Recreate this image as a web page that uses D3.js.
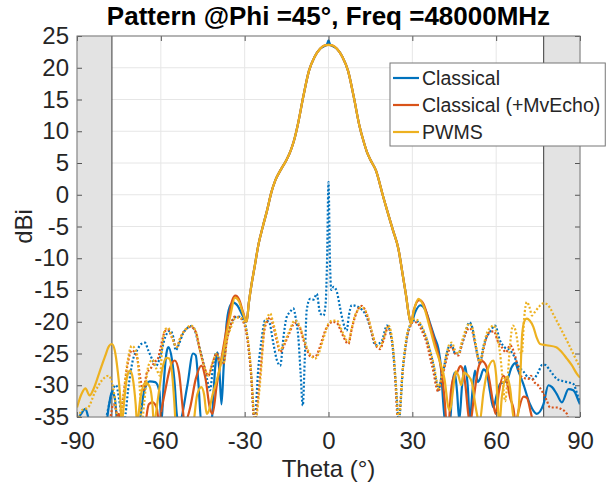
<!DOCTYPE html>
<html>
<head>
<meta charset="utf-8">
<script src="https://cdnjs.cloudflare.com/ajax/libs/d3/7.8.5/d3.min.js"></script>
<style>
body{margin:0;background:#fff}
text{font-family:"Liberation Sans",Arial,sans-serif;fill:#262626}
</style>
</head>
<body>
<svg id="patterngraph"></svg>
<script>
//tick labels
var thetaTicks = [-90,-60,-30,0,30,60,90]
var dbTicks = [-35,-30,-25,-20,-15,-10,-5,0,5,10,15,20,25]
//theta ranges outside the valid scan area
var shadeBands = [[-90,-77.5],[77,90]]
var seriesNames = ["Classical","Classical (+MvEcho)","PWMS"]

//main beam, common to the three co-pol curves [theta, dBi]
var mainBeam = [[-29.3,-20],[-28.5,-17],[-27.5,-14],[-26.5,-11.5],[-25,-7.7],[-23.5,-5],[-22,-2.5],[-20.5,0.3],[-19,2.3],[-17,4],[-15,5.5],[-13.5,7],[-12.5,8.3],[-11,11],[-9,15.5],[-7,19.5],[-5,21.7],[-3,23],[3,23],[5,21.7],[7,19.5],[9,15.5],[11,11],[12.5,8.5],[13.7,6.8],[15,5.5],[17,3.8],[19.5,-0.2],[21,-2.5],[23,-5.5],[25,-8.5],[26.7,-13],[27.8,-16],[28.6,-18.5],[29.5,-20.3]]
var classicalPeak = [[-1.5,23.4],[-0.5,23.7],[0,24.3],[0.5,23.7],[1.5,23.4]]
var pwmsPeak = [[-1.5,23.5],[0,23.6],[1.5,23.5]]

//co-pol sidelobes
var classicalCoLeft = [[-90,-35.5],[-88.5,-34.5],[-87,-33.7],[-86,-35],[-85,-37],[-80,-37],[-78.5,-33],[-77.5,-31],[-76.5,-32],[-75.5,-36],[-72,-38],[-68,-36.5],[-66,-31],[-64,-29.4],[-62,-29.5],[-60.5,-31],[-59.8,-36],[-59,-30],[-58,-25],[-57.3,-24],[-56,-26],[-55,-30],[-54.3,-34.5],[-53.5,-36],[-50.5,-30],[-48.5,-25],[-47.5,-25.3],[-46.5,-30],[-45.5,-36],[-42,-36],[-40.5,-27],[-39.8,-24.8],[-39,-28],[-38.3,-33],[-37.5,-27],[-36.4,-20],[-35,-17.3],[-34,-17],[-32.5,-17.5],[-31,-18.8]]
var classicalCoRight = [[31,-18.5],[32.8,-17.4],[34.5,-18],[36.3,-20.2],[38,-22.5],[39.3,-24.2],[40.2,-27],[41.1,-33],[41.8,-36],[43.5,-36],[44.3,-30],[45.2,-28],[46,-31],[46.8,-35.5],[47.8,-30],[48.9,-27],[49.8,-30],[50.6,-35.5],[51.5,-31],[52.4,-27.7],[53.5,-29.5],[54.2,-29],[55.5,-27.5],[56.6,-28],[57.8,-31],[59,-33.5],[60.2,-31.5],[61.4,-29.8],[63.8,-29.3],[65.5,-27.2],[66.8,-26.5],[67.9,-27.7],[69.7,-29.8],[72.1,-33],[74.5,-34.5],[76.9,-33],[78.7,-30],[80,-30.3],[81.7,-31.4],[83.5,-32.7],[85.9,-30.6],[87.6,-30.8],[89.7,-32.7],[90,-33]]
var mvEchoCoLeft = [[-90,-40],[-80,-40],[-76.5,-37],[-75.6,-35],[-75,-34.5],[-74.3,-36],[-72,-40],[-67,-40],[-65.5,-36],[-64.3,-33],[-63,-32.7],[-61.5,-33.5],[-60.6,-36],[-59.8,-34],[-58.5,-31],[-56.5,-27],[-55,-26.1],[-53.5,-28],[-52.3,-33],[-51.5,-36],[-49.5,-33.5],[-47.5,-29],[-45.5,-26.9],[-44,-29],[-42.5,-33.5],[-41.5,-34.5],[-40,-30],[-38,-25],[-36,-20],[-34.5,-16.7],[-33.3,-15.9],[-32,-16.5],[-30.5,-18.6]]
var mvEchoCoRight = [[30.5,-18.2],[32.5,-16.6],[34,-17.2],[36,-20],[38,-23],[39.5,-25.5],[40.5,-28],[41.5,-32],[42.3,-36],[43,-36],[43.8,-31],[45,-28.5],[46,-28],[47.2,-27],[48,-27.5],[49,-30],[50,-34.5],[50.7,-36],[52,-32],[53.5,-27.5],[54.9,-26.2],[56.5,-27],[57.5,-29],[59,-33],[59.8,-34.5],[61,-31],[62.5,-28.5],[63.8,-29.5],[65,-32],[66.2,-33.7],[67,-36],[68,-34],[69.8,-31.8],[71,-32],[72.5,-34.5],[73.3,-36],[75,-40],[90,-40]]
var pwmsCoLeft = [[-90,-33.5],[-88.5,-31.5],[-87,-30.5],[-85.5,-31.6],[-84,-30.5],[-82,-28],[-80,-25.5],[-78.5,-23.8],[-77.5,-23.5],[-76.5,-24.5],[-75.5,-27.5],[-74.6,-31.5],[-74,-36],[-73,-32],[-72,-28.5],[-71,-27.7],[-70,-29],[-69,-33],[-68.5,-36],[-67.3,-32],[-65.5,-29.6],[-64,-30.2],[-63,-33],[-62.5,-36],[-61,-32],[-59.5,-27.5],[-58,-25.7],[-57,-25.8],[-56,-28],[-55.2,-32.5],[-54.7,-36],[-52,-40],[-49,-40],[-48,-35],[-47,-31.5],[-45.5,-30.3],[-44.5,-31.5],[-43.6,-34.5],[-42.8,-34],[-41.5,-31.5],[-40,-29.3],[-38,-25.5],[-36.4,-21.8],[-35,-18.8],[-33.5,-16.2],[-32,-16.8],[-30.5,-18.8]]
var pwmsCoRight = [[30.5,-18.3],[32.2,-16.4],[34,-17.5],[36,-20.5],[38,-23.8],[40,-26.5],[41.5,-29],[42.9,-33.5],[43.5,-34],[44.5,-31],[45.5,-27.8],[46.5,-28.5],[47.5,-30],[48.5,-28],[50,-28.5],[51.3,-29.5],[52.5,-33],[53.1,-34.5],[54,-36],[55.5,-31],[57,-27.5],[59,-26.1],[60,-28.5],[60.7,-34],[61.2,-36],[62,-32],[63.8,-28.7],[65,-30.5],[66,-34.5],[67,-36],[68,-34],[68.7,-28],[69.3,-22],[70.2,-19.8],[71,-19.5],[72,-19.8],[73.3,-20.8],[74.5,-22.5],[75.7,-23.5],[78,-23.7],[81.5,-24],[83.5,-24.8],[85.3,-25.8],[87,-26.8],[88.9,-28.2],[90,-28.8]]

//cross-pol curves (dotted)
var classicalX = [[-90,-38],[-86,-36],[-80,-35.5],[-78.5,-33],[-77,-30.5],[-76,-30],[-75,-32],[-74,-35],[-73.3,-36],[-71.5,-30],[-70,-26],[-68.5,-24.5],[-67,-23.5],[-65.7,-23.3],[-64.5,-24.5],[-63,-26],[-61.8,-27],[-60.3,-25.6],[-58.5,-22.5],[-56.7,-21.4],[-55.5,-22.5],[-54.7,-24.5],[-53.5,-23.5],[-52,-21.8],[-50.5,-21],[-49.3,-20.7],[-48,-21.2],[-46.5,-23.5],[-45,-26],[-43.5,-29],[-42.4,-30.8],[-41.3,-27],[-40,-24.8],[-38.8,-26.5],[-37.5,-26],[-36.4,-22.6],[-35,-20.5],[-33.5,-19.3],[-32,-19.2],[-30.5,-19.8],[-29.5,-21],[-28.5,-24.5],[-27.5,-29.5],[-26.9,-34],[-26.5,-36],[-25.1,-27.2],[-24,-23],[-22.7,-19.8],[-21.3,-20],[-19.7,-23.5],[-18.5,-26],[-17.3,-26.9],[-16,-22],[-15,-19.3],[-13.8,-18.5],[-12.6,-17.9],[-11.7,-19.5],[-10.8,-22.4],[-10,-28],[-9.2,-33.2],[-8.5,-26],[-7.8,-18.2],[-6.6,-16.4],[-5.3,-16.5],[-4.2,-15.6],[-3,-18.7],[-1.8,-19],[-1,-17],[-0.5,-10],[0,2],[0.5,-10],[1,-15],[1.8,-14.5],[3,-15.3],[4.1,-17.7],[5.2,-20],[6.5,-21.4],[7.3,-19],[8.3,-17.4],[10.7,-17.7],[13.7,-19.3],[15.3,-21.5],[16.7,-23.7],[19.1,-23],[20.9,-20.6],[22.7,-23],[23.6,-27],[24.4,-31.9],[25.2,-36],[25.8,-33],[26.5,-28],[27.4,-24.5],[28.5,-21.5],[29.5,-20.3],[30.4,-19.8],[32,-20],[33.5,-21],[35.1,-22.8],[36.3,-24.5],[37.6,-27],[38.6,-29.5],[39.3,-30.8],[40.3,-29],[41.1,-27.7],[42.3,-25],[43.3,-23.8],[44.1,-23.7],[45.3,-25],[46.5,-25],[47.8,-23.5],[48.9,-21.9],[50.4,-20.1],[51.5,-21],[52.5,-23.5],[53.5,-25.5],[54.2,-26.6],[55.4,-24],[56.5,-22.5],[57.8,-21.6],[59.6,-20.6],[61.4,-23],[63,-24],[65,-24.5],[66.5,-25.5],[68,-27],[69.7,-27.8],[71.5,-28.8],[73.3,-29],[75,-28],[76.5,-26.8],[77.5,-26.8],[79.3,-27.7],[81.7,-29],[83.5,-29.3],[85.3,-29.5],[87.6,-29.8],[89.4,-31.9],[90,-32.5]]
var mvEchoX = [[-90,-40],[-80,-38],[-78,-35],[-77,-33],[-76,-34],[-75.3,-36],[-73.5,-32],[-72,-27],[-70.4,-24.5],[-68.6,-25.5],[-67.3,-29],[-66.3,-31],[-65,-28],[-63.9,-27.5],[-62.1,-26.3],[-61,-25.8],[-60.3,-24.5],[-58.5,-21.5],[-57.5,-21.2],[-56,-22.5],[-54.3,-24],[-53,-22.5],[-51.5,-21.4],[-49.3,-20.8],[-47.5,-21.6],[-46,-24.5],[-44.5,-27],[-43,-28.5],[-41.5,-26.5],[-40,-25],[-38.8,-26.5],[-37.5,-26.5],[-36.4,-23],[-35,-20.5],[-33.5,-19.2],[-32,-19.3],[-30.5,-20],[-29.5,-21.5],[-28.5,-24.5],[-27.5,-29.5],[-26.9,-34],[-26.5,-36],[-25,-31],[-24,-26],[-23,-21.5],[-22,-20],[-20.9,-19.3],[-19.7,-20.8],[-18.5,-23],[-17.3,-24.8],[-16,-23.8],[-14.4,-22.2],[-12,-20.2],[-10.2,-21],[-9,-22.8],[-7.8,-24.3],[-6.3,-25.5],[-4.8,-25.5],[-3.5,-24.5],[-2.4,-23],[-1,-21.2],[0,-20.5],[1.5,-20],[3,-20.2],[4.2,-21.2],[5.3,-22.3],[7.1,-23.5],[8.3,-21.2],[9.5,-19.2],[11.9,-17.5],[14.2,-19.6],[15.5,-21.8],[16.7,-23.5],[18.4,-24.3],[19.8,-22.8],[21.4,-20.8],[22.3,-22],[23.2,-25],[24,-30],[24.5,-34],[24.9,-36],[25.5,-34],[26.4,-28.5],[27.4,-24.5],[28.3,-22],[29.2,-20.8],[30.4,-20],[32,-20.3],[33.5,-21.5],[35.1,-23.3],[36.3,-25.5],[37.6,-28],[38.6,-30.3],[39.3,-31],[40.3,-29.5],[41.1,-28],[42.3,-25.8],[43.3,-24.3],[44.1,-24],[45.3,-25],[46.5,-25.3],[47.8,-23.5],[48.9,-22],[50.4,-21],[51.5,-21.6],[52.5,-23.5],[53.5,-25.8],[54.2,-26.6],[55.4,-24.5],[56.5,-22.5],[57.8,-21.6],[59.2,-21.5],[60.5,-23],[62,-24],[63.5,-24.8],[65,-23.7],[66.5,-25],[68,-27.5],[69.2,-28.7],[71.5,-29],[72.5,-28.5],[73.3,-29.3],[75,-30],[76.5,-31],[78.1,-32.4],[79.3,-33.5],[81.7,-33.5],[83.5,-33.8],[85.3,-34.5],[86,-36],[90,-40]]
var pwmsX = [[-90,-37],[-88.5,-34],[-86,-33.5],[-83.6,-31.1],[-81.2,-29.3],[-78.8,-28.5],[-77.5,-29.5],[-76.5,-32],[-75.8,-34.5],[-75,-36],[-73.5,-32],[-72,-26.5],[-70.4,-23.8],[-68.6,-25],[-67.5,-30.8],[-66.8,-36],[-66,-33],[-64.5,-27],[-63,-26],[-61.5,-27.5],[-60.3,-28.5],[-59.5,-24],[-58.5,-21.2],[-57.3,-21],[-56,-22.5],[-54.3,-24],[-53,-22.5],[-51.5,-21.4],[-49.3,-20.6],[-47.5,-21.5],[-46,-24.5],[-44.5,-27],[-43,-28.5],[-41.5,-26.5],[-40,-25],[-38.8,-26.5],[-37.5,-26.5],[-36.4,-23],[-35,-21],[-33.5,-19.5],[-32,-19.3],[-30.5,-19.8],[-29.5,-21],[-28.5,-24],[-27.5,-29],[-26.8,-34],[-26.3,-36],[-25,-32],[-24,-27],[-23,-21],[-22,-19.5],[-20.9,-18.7],[-19.7,-20.3],[-18.5,-22.5],[-17.3,-24.5],[-16,-23.5],[-14.4,-21.9],[-12,-19.8],[-10.2,-20.8],[-9,-22.5],[-7.8,-24],[-6.3,-25.3],[-4.8,-25.8],[-3.5,-25],[-2.4,-23.5],[-1,-21.5],[0,-20.3],[1.5,-19.8],[3,-19.8],[4.2,-20.8],[5.3,-21.9],[7.1,-23.2],[8.3,-21],[9.5,-19],[11.9,-17.7],[14.2,-19.3],[15.5,-21.5],[16.7,-23.2],[18.4,-24],[19.8,-22.5],[21.4,-20.6],[22.3,-21.5],[23.2,-24.5],[24,-29],[24.6,-33],[25,-36],[25.6,-34],[26.5,-28],[27.4,-24],[28.3,-21.5],[29.2,-20.5],[30.4,-19.6],[32,-19.8],[33.5,-20.8],[35.1,-22.6],[36.3,-24.5],[37.6,-26.6],[38.6,-29],[39.3,-30.5],[40.3,-29],[41.1,-27.5],[42.3,-25],[43.3,-23.5],[44.1,-23.3],[45.3,-24.5],[46.5,-25],[47.8,-23],[48.9,-21.5],[50.4,-20.3],[51.5,-21],[52.5,-23],[53.5,-25.5],[54.2,-26.3],[55.4,-24],[56.5,-22],[57.8,-21],[59.2,-20.6],[60.4,-22.5],[61.4,-25],[62.3,-29],[63.2,-32.5],[64,-29.5],[65,-23.5],[66,-20.6],[67,-21.5],[68.2,-24.5],[69.2,-25],[70,-19.5],[71,-16.9],[72,-17.8],[72.8,-19],[73.8,-18.5],[75.2,-17.7],[76.8,-17.1],[78.1,-17.2],[79.5,-18],[80.4,-18.8],[82.9,-20.9],[85.9,-23.5],[88.2,-25.6],[90,-27.2]]

var byTheta = function(a,b){return a[0]-b[0]}

//size of screen
var screen = {width:614,height:490}
//how much space on each side
var margins = {left:77,right:34,top:36,bottom:73}
var graph = {
    width:screen.width-margins.left-margins.right,
    height:screen.height-margins.top-margins.bottom
}

var svg = d3.select("#patterngraph")
    .attr("width",screen.width)
    .attr("height",screen.height)

svg.append("rect").attr("width",screen.width).attr("height",screen.height).attr("fill","white")

var xScale = d3.scaleLinear().domain([-90,90]).range([0,graph.width])
var yScale = d3.scaleLinear().domain([-35,25]).range([graph.height,0])

var target = svg.append("g")
    .attr("transform","translate("+margins.left+","+margins.top+")")

target.append("clipPath").attr("id","plotclip")
    .append("rect").attr("width",graph.width).attr("height",graph.height)

//grid
target.append("g").selectAll("line").data(thetaTicks).enter().append("line")
    .attr("x1",function(t){return xScale(t)}).attr("x2",function(t){return xScale(t)})
    .attr("y1",0).attr("y2",graph.height)
    .attr("stroke","#e6e6e6").attr("stroke-width",1)
target.append("g").selectAll("line").data(dbTicks).enter().append("line")
    .attr("y1",function(d){return yScale(d)}).attr("y2",function(d){return yScale(d)})
    .attr("x1",0).attr("x2",graph.width)
    .attr("stroke","#e6e6e6").attr("stroke-width",1)

//shaded bands
var bands = target.append("g")
bands.selectAll("rect").data(shadeBands).enter().append("rect")
    .attr("x",function(b){return xScale(b[0])})
    .attr("width",function(b){return xScale(b[1])-xScale(b[0])})
    .attr("y",0).attr("height",graph.height)
    .attr("fill","#e3e3e3")
bands.selectAll("line").data(shadeBands).enter().append("line")
    .attr("x1",function(b){return xScale(b[0]<0?b[1]:b[0])})
    .attr("x2",function(b){return xScale(b[0]<0?b[1]:b[0])})
    .attr("y1",0).attr("y2",graph.height)
    .attr("stroke","#3a3a3a").attr("stroke-width",1)

//curves
var series = [
    {data:classicalCoLeft.concat(mainBeam,classicalPeak,classicalCoRight),color:"#0072BD",dotted:false},
    {data:classicalX,color:"#0072BD",dotted:true},
    {data:mvEchoCoLeft.concat(mainBeam,pwmsPeak,mvEchoCoRight),color:"#D95319",dotted:false},
    {data:mvEchoX,color:"#D95319",dotted:true},
    {data:pwmsCoLeft.concat(mainBeam,pwmsPeak,pwmsCoRight),color:"#EDB120",dotted:false},
    {data:pwmsX,color:"#EDB120",dotted:true}
]

var line = d3.line()
    .x(function(p){return xScale(p[0])})
    .y(function(p){return yScale(p[1])})
    .curve(d3.curveMonotoneX)

var curves = target.append("g").attr("clip-path","url(#plotclip)")
curves.selectAll("path").data(series).enter().append("path")
    .attr("d",function(s){return line(s.data.slice().sort(byTheta))})
    .attr("fill","none")
    .attr("stroke",function(s){return s.color})
    .attr("stroke-width",2.2)
    .attr("stroke-dasharray",function(s){return s.dotted?"2,2":null})

//axes, ticks pointing inward on all four sides; plain hyphen for negatives
var plain = function(v){return String(v)}
var xAxis = d3.axisBottom(xScale).tickValues(thetaTicks).tickSize(-5).tickPadding(15).tickFormat(plain)
var xAxisG = target.append("g").attr("transform","translate(0,"+graph.height+")").call(xAxis)
var yAxis = d3.axisLeft(yScale).tickValues(dbTicks).tickSize(-5).tickPadding(8).tickFormat(plain)
var yAxisG = target.append("g").call(yAxis)
var xTop = target.append("g").call(d3.axisTop(xScale).tickValues(thetaTicks).tickSize(-5).tickFormat(""))
var yRight = target.append("g").attr("transform","translate("+graph.width+",0)")
    .call(d3.axisRight(yScale).tickValues(dbTicks).tickSize(-5).tickFormat(""))

target.selectAll(".domain").remove()
target.selectAll(".tick line").attr("stroke","#555")
target.selectAll(".tick text").style("font-size","24px").attr("fill","#262626")

target.append("rect").attr("width",graph.width).attr("height",graph.height)
    .attr("fill","none").attr("stroke","#777").attr("stroke-width",1)

//labels
svg.append("text").text("Pattern @Phi =45°, Freq =48000MHz")
    .attr("x",margins.left+graph.width/2).attr("y",25)
    .attr("text-anchor","middle").style("font-size","26px").style("font-weight","bold")
    .style("fill","#000")
svg.append("text").text("Theta (°)")
    .attr("x",margins.left+graph.width/2).attr("y",477)
    .attr("text-anchor","middle").style("font-size","24px")
svg.append("g").attr("transform","translate(32,"+(margins.top+graph.height/2)+")")
    .append("text").text("dBi")
    .attr("text-anchor","middle").attr("transform","rotate(-90)")
    .style("font-size","24px")

//legend
var legend = svg.append("g").attr("transform","translate(390,63)")
var legendBox = legend.append("rect").attr("height",83).attr("fill","white")
    .attr("stroke","#777").attr("stroke-width",1)
var entries = legend.selectAll("g.entry").data(seriesNames).enter().append("g")
    .attr("class","entry")
    .attr("transform",function(n,i){return "translate(0,"+(15+i*27)+")"})
entries.append("line").attr("x1",3).attr("x2",29).attr("y1",0).attr("y2",0)
    .attr("stroke",function(n,i){return series[i*2].color}).attr("stroke-width",2.2)
entries.append("text").text(function(n){return n})
    .attr("x",32).attr("y",7).style("font-size","19.5px")
var legendWidth = d3.max(entries.selectAll("text").nodes(),function(t){return t.getComputedTextLength()})
legendBox.attr("width",32+legendWidth+5)
</script>
</body>
</html>
